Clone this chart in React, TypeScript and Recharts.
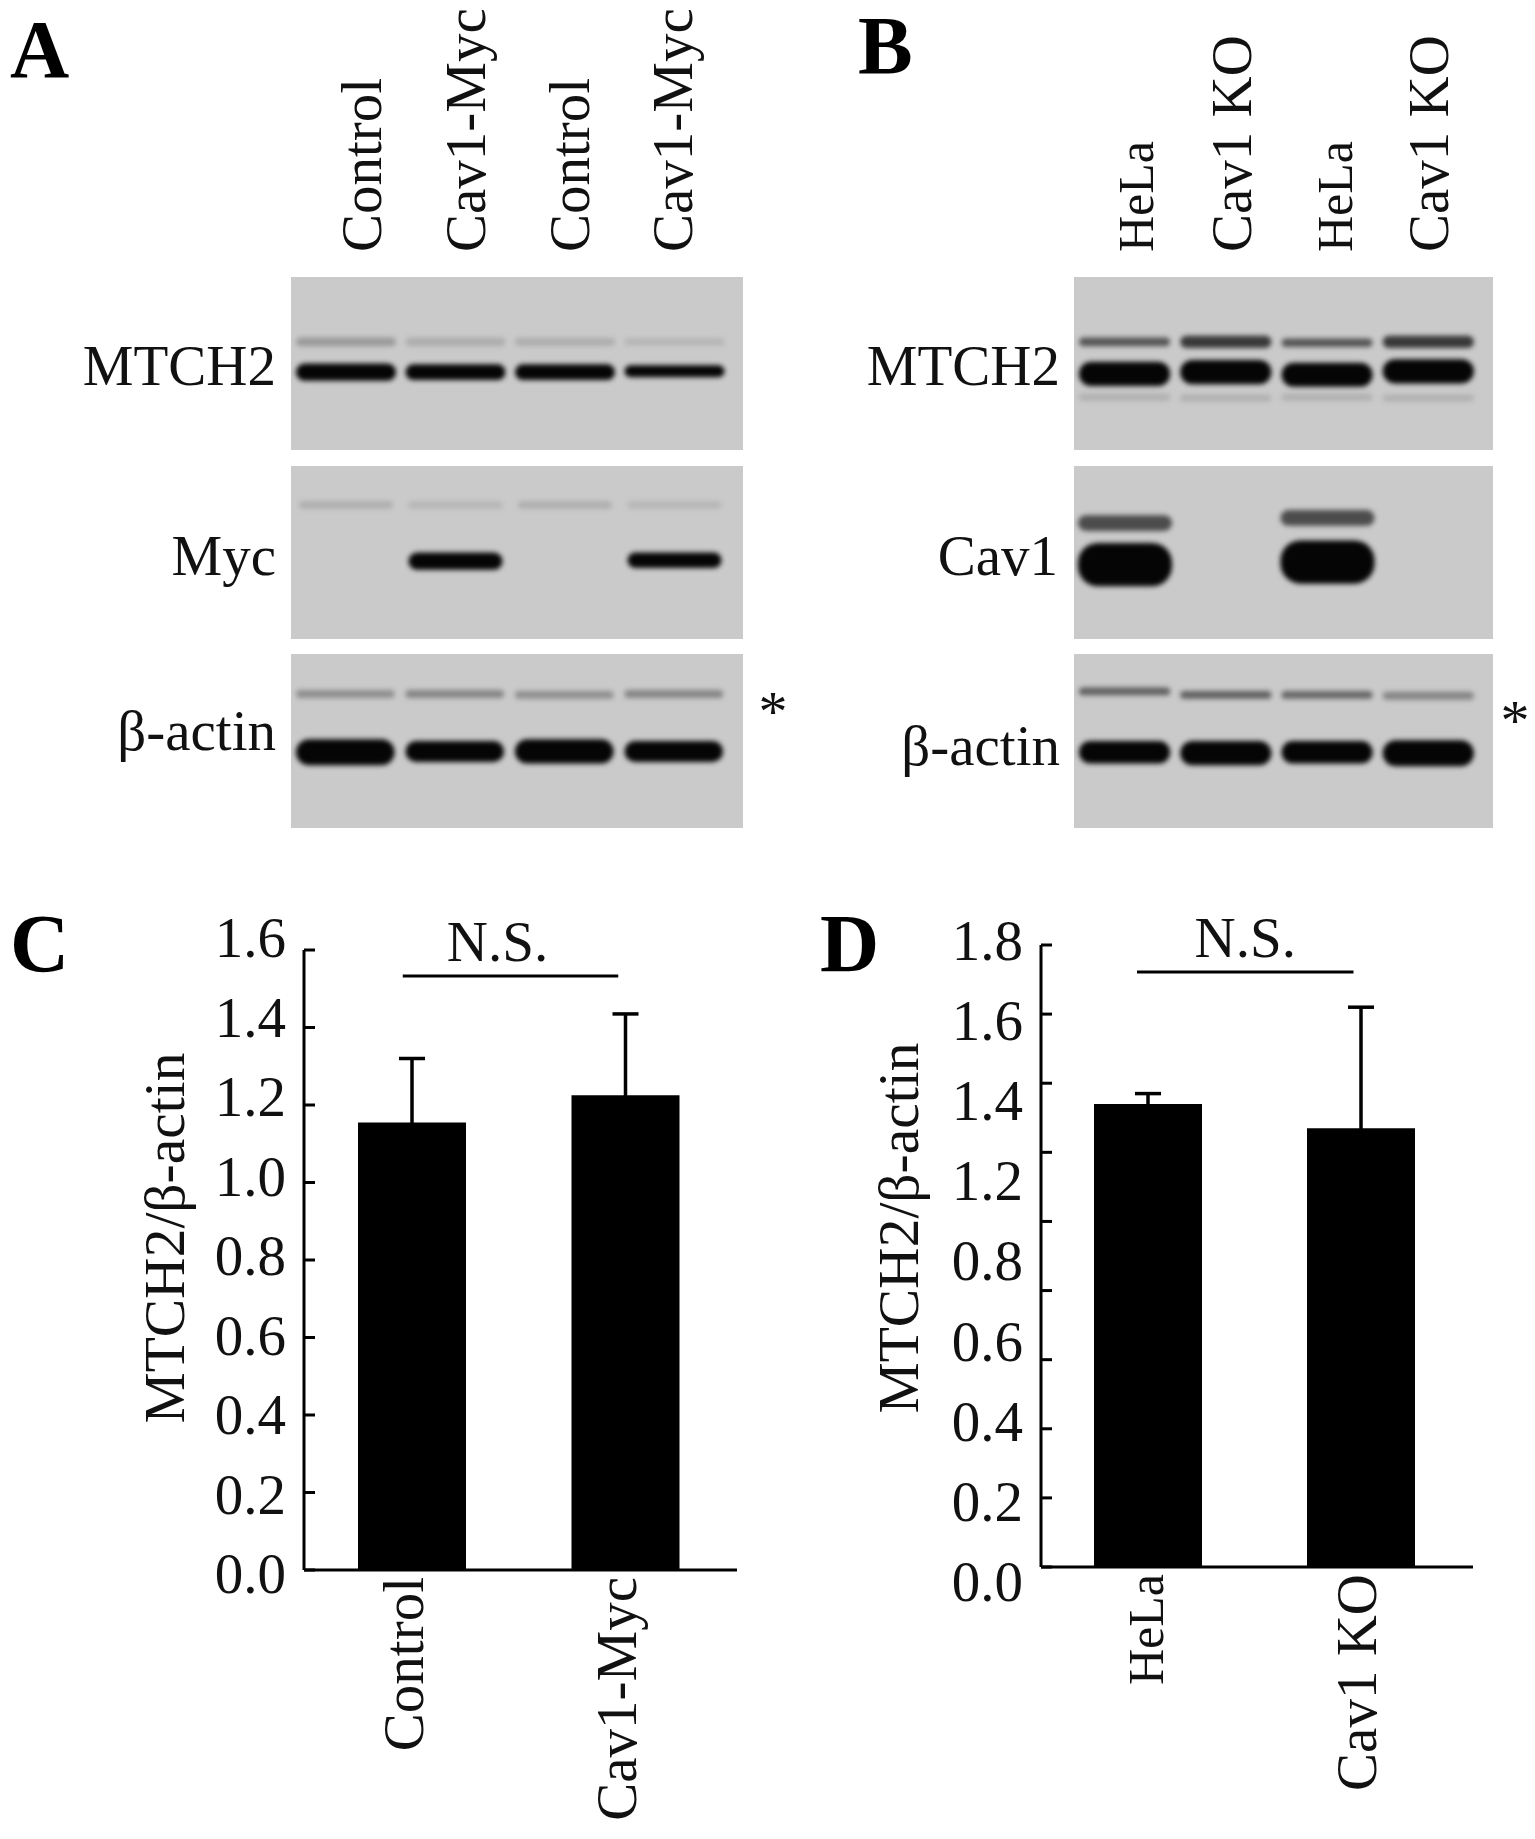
import React from "react";
import {
  Bar,
  BarChart,
  Cell,
  ErrorBar,
  ReferenceLine,
  XAxis,
  YAxis,
} from "recharts";

const SERIF = "'Liberation Serif', serif";
const INK = "#111111";

// Panel C
const groupsC = ["Control", "Cav1-Myc"];
const meansC = [1.155, 1.225];
const errorsC = [0.165, 0.21];
const ticksC = [0, 0.2, 0.4, 0.6, 0.8, 1.0, 1.2, 1.4, 1.6];
const labelsC = ["1.6", "1.4", "1.2", "1.0", "0.8", "0.6", "0.4", "0.2", "0.0"];

// Panel D (the printed labels skip 1.0, there are 10 ticks and 9 labels)
const groupsD = ["HeLa", "Cav1 KO"];
const meansD = [1.34, 1.27];
const errorsD = [0.03, 0.35];
const ticksD = [0, 0.2, 0.4, 0.6, 0.8, 1.0, 1.2, 1.4, 1.6, 1.8];
const labelsD = ["1.8", "1.6", "1.4", "1.2", "0.8", "0.6", "0.4", "0.2", "0.0"];

// Blots: centre and thickness of each band per lane, % of the panel height
const lanes = ["1", "2", "3", "4"];

const aMtch2UpperPos = [37.5, 37.5, 37.5, 37.5];
const aMtch2UpperSize = [5, 5, 4.5, 4];
const aMtch2UpperTone = ["#9a9a9a", "#adadad", "#adadad", "#b4b4b4"];
const aMtch2LowerPos = [55, 55, 55, 54.5];
const aMtch2LowerSize = [10, 9, 9, 7];

const aMycUpperPos = [22.5, 22.5, 22.5, 22.5];
const aMycUpperSize = [4, 4, 4, 4];
const aMycUpperTone = ["#adadad", "#b5b5b5", "#adadad", "#b5b5b5"];
const aMycLowerPos = [55, 55, 55, 54.5];
const aMycLowerSize = [0, 10, 0, 9];

const aActinUpperPos = [23, 23, 23.5, 23];
const aActinUpperSize = [4.5, 4.5, 4.5, 4.5];
const aActinUpperTone = ["#8e8e8e", "#858585", "#8e8e8e", "#858585"];
const aActinLowerPos = [56.5, 56, 56, 56];
const aActinLowerSize = [15, 12, 14, 12];

const bMtch2UpperPos = [37.5, 37.5, 38, 37.5];
const bMtch2UpperSize = [5, 7, 5, 7];
const bMtch2UpperTone = ["#555555", "#383838", "#555555", "#383838"];
const bMtch2LowerPos = [56, 55, 56.5, 54.5];
const bMtch2LowerSize = [14, 14, 14, 14];
const bMtch2FaintPos = [69.5, 70, 69.5, 70];
const bMtch2FaintSize = [4, 4, 4, 4];
const bMtch2FaintTone = ["#b0b0b0", "#b0b0b0", "#b0b0b0", "#b0b0b0"];

const bCavUpperPos = [33, 0, 30, 0];
const bCavUpperSize = [9, 0, 9, 0];
const bCavUpperTone = ["#4c4c4c", "#4c4c4c", "#4c4c4c", "#4c4c4c"];
const bCavLowerPos = [57, 0, 55.5, 0];
const bCavLowerSize = [25, 0, 25, 0];

const bActinUpperPos = [21.5, 23.5, 23.5, 24];
const bActinUpperSize = [4.5, 4.5, 4.5, 4.5];
const bActinUpperTone = ["#5f5f5f", "#5f5f5f", "#666666", "#858585"];
const bActinLowerPos = [56.5, 57, 56.5, 57];
const bActinLowerSize = [13, 14, 13, 15];

const blackTones = ["#050505", "#050505", "#050505", "#050505"];

type Band = { pos: number[]; size: number[]; tone: string[] };

function BlotPanel({ left, top, width, height, barSize, bands }: {
  left: number;
  top: number;
  width: number;
  height: number;
  barSize: number;
  bands: Band[];
}) {
  // each lane is one stack: transparent gap, band, transparent gap, band...
  const rows = lanes.map((lane, l) => {
    const row: Record<string, number | string> = { lane };
    let cursor = 0;
    bands.forEach((band, b) => {
      const start = band.pos[l] - band.size[l] / 2;
      row[`gap${b}`] = Math.max(start - cursor, 0);
      row[`band${b}`] = band.size[l];
      cursor = Math.max(start, cursor) + band.size[l];
    });
    return row;
  });

  return (
    <div
      style={{
        position: "absolute",
        left,
        top,
        width,
        height,
        background: "#cacaca",
        overflow: "hidden",
      }}
    >
      <div style={{ filter: "blur(2.6px)" }}>
        <BarChart
          width={width}
          height={height}
          data={rows}
          margin={{ top: 0, right: 14, bottom: 0, left: 0 }}
          barSize={barSize}
        >
          <XAxis dataKey="lane" hide />
          <YAxis hide reversed domain={[0, 100]} />
          {bands.flatMap((band, b) => [
            <Bar
              key={`gap${b}`}
              dataKey={`gap${b}`}
              stackId="lane"
              fill="transparent"
              isAnimationActive={false}
            />,
            <Bar
              key={`band${b}`}
              dataKey={`band${b}`}
              stackId="lane"
              radius={20}
              isAnimationActive={false}
            >
              {band.tone.map((tone, i) => (
                <Cell key={i} fill={tone} />
              ))}
            </Bar>,
          ])}
        </BarChart>
      </div>
    </div>
  );
}

function ValueTick({ x, y, payload, labels, top, lift, drift }: any) {
  const row = Math.round((top - payload.value) / 0.2);
  return (
    <g>
      <line x1={x} x2={x + 11} y1={y} y2={y} stroke="#000" strokeWidth={3} />
      {row < labels.length && (
        <text
          x={x - 18}
          y={y + lift + row * drift + 19}
          textAnchor="end"
          fontFamily={SERIF}
          fontSize={57}
          fill={INK}
        >
          {labels[row]}
        </text>
      )}
    </g>
  );
}

function GroupTick({ x, y, payload, shift, sizes, groups }: any) {
  const size = sizes[groups.indexOf(payload.value)];
  const bx = x + shift + 18;
  return (
    <text
      transform={`rotate(-90 ${bx} ${y})`}
      x={bx}
      y={y}
      textAnchor="end"
      fontFamily={SERIF}
      fontSize={size}
      fill={INK}
    >
      {payload.value}
    </text>
  );
}

function SigLine({ x1, x2, y1, startShift, endShift, textShift }: any) {
  const a = x1 + startShift;
  const b = x2 + endShift;
  return (
    <g>
      <line x1={a} x2={b} y1={y1} y2={y1} stroke="#000" strokeWidth={3} />
      <text
        x={(a + b) / 2 + textShift}
        y={y1 - 15}
        textAnchor="middle"
        fontFamily={SERIF}
        fontSize={57}
        fill={INK}
      >
        N.S.
      </text>
    </g>
  );
}

function BarPanel({
  left, top, width, height, plotLeft, plotRight, plotTop, plotBottom,
  groups, means, errors, ticks, labels, barSize, sigValue, startShift, endShift,
  textShift, lift, drift, titleShift, labelShift, sizes, padding,
}: any) {
  const rows = groups.map((group: string, i: number) => ({
    group,
    mean: means[i],
    // lower end stays hidden inside the bar
    error: [0.04, errors[i]],
  }));
  const axisWidth = 100;
  const axisHeight = 260;
  const topValue = ticks[ticks.length - 1];

  return (
    <div style={{ position: "absolute", left, top }}>
      <BarChart
        width={width}
        height={height}
        data={rows}
        margin={{
          top: plotTop,
          right: width - plotRight,
          bottom: height - plotBottom - axisHeight,
          left: plotLeft - axisWidth,
        }}
        barSize={barSize}
        style={{ overflow: "visible" }}
      >
        <XAxis
          dataKey="group"
          height={axisHeight}
          interval={0}
          padding={padding}
          tickLine={false}
          tickSize={0}
          tickMargin={7}
          axisLine={{ stroke: "#000", strokeWidth: 3 }}
          tick={<GroupTick shift={labelShift} sizes={sizes} groups={groups} />}
        />
        <YAxis
          width={axisWidth}
          domain={[0, topValue]}
          ticks={ticks}
          interval={0}
          tickLine={false}
          tickSize={0}
          tickMargin={0}
          axisLine={{ stroke: "#000", strokeWidth: 3 }}
          tick={<ValueTick labels={labels} top={topValue} lift={lift} drift={drift} />}
          label={{
            value: "MTCH2/β-actin",
            angle: -90,
            position: "insideLeft",
            offset: titleShift.x,
            dy: titleShift.y,
            style: { fontFamily: SERIF, fontSize: 57.5, fill: INK, textAnchor: "middle" },
          }}
        />
        <Bar dataKey="mean" fill="#000000" isAnimationActive={false}>
          <ErrorBar
            dataKey="error"
            direction="y"
            width={13}
            stroke="#000"
            strokeWidth={3.5}
            isAnimationActive={false}
          />
        </Bar>
        <ReferenceLine
          ifOverflow="visible"
          segment={[
            { x: groups[0], y: sigValue },
            { x: groups[1], y: sigValue },
          ]}
          shape={(p: any) => (
            <SigLine
              x1={p.x1}
              x2={p.x2}
              y1={p.y1}
              startShift={startShift}
              endShift={endShift}
              textShift={textShift}
            />
          )}
        />
      </BarChart>
    </div>
  );
}

function Label({ x, y, size = 57, bold, anchor = "end", rotate, children }: any) {
  return (
    <text
      x={x}
      y={y}
      transform={rotate ? `rotate(-90 ${x} ${y})` : undefined}
      textAnchor={anchor}
      fontFamily={SERIF}
      fontSize={size}
      fontWeight={bold ? 700 : 400}
      fill={bold ? "#000" : INK}
    >
      {children}
    </text>
  );
}

const App: React.FC = () => {
  return (
    <div
      style={{
        position: "absolute",
        left: 0,
        top: 0,
        width: 1535,
        height: 1839,
        background: "#fff",
        overflow: "hidden",
      }}
    >
      <BlotPanel left={291} top={277} width={452} height={173} barSize={100} bands={[
        { pos: aMtch2UpperPos, size: aMtch2UpperSize, tone: aMtch2UpperTone },
        { pos: aMtch2LowerPos, size: aMtch2LowerSize, tone: blackTones },
      ]} />
      <BlotPanel left={291} top={466} width={452} height={173} barSize={94} bands={[
        { pos: aMycUpperPos, size: aMycUpperSize, tone: aMycUpperTone },
        { pos: aMycLowerPos, size: aMycLowerSize, tone: blackTones },
      ]} />
      <BlotPanel left={291} top={654} width={452} height={174} barSize={112} bands={[
        { pos: aActinUpperPos, size: aActinUpperSize, tone: aActinUpperTone },
        { pos: aActinLowerPos, size: aActinLowerSize, tone: blackTones },
      ]} />
      <BlotPanel left={1074} top={277} width={419} height={173} barSize={102} bands={[
        { pos: bMtch2UpperPos, size: bMtch2UpperSize, tone: bMtch2UpperTone },
        { pos: bMtch2LowerPos, size: bMtch2LowerSize, tone: blackTones },
        { pos: bMtch2FaintPos, size: bMtch2FaintSize, tone: bMtch2FaintTone },
      ]} />
      <BlotPanel left={1074} top={466} width={419} height={173} barSize={94} bands={[
        { pos: bCavUpperPos, size: bCavUpperSize, tone: bCavUpperTone },
        { pos: bCavLowerPos, size: bCavLowerSize, tone: blackTones },
      ]} />
      <BlotPanel left={1074} top={654} width={419} height={174} barSize={104} bands={[
        { pos: bActinUpperPos, size: bActinUpperSize, tone: bActinUpperTone },
        { pos: bActinLowerPos, size: bActinLowerSize, tone: blackTones },
      ]} />

      <svg
        width={1535}
        height={880}
        style={{ position: "absolute", left: 0, top: 0 }}
      >
        <Label x={10} y={77} size={82} bold anchor="start">A</Label>
        <Label x={858} y={73} size={82} bold anchor="start">B</Label>

        <Label x={381} y={252} anchor="start" rotate>Control</Label>
        <Label x={485} y={252} anchor="start" rotate>Cav1-Myc</Label>
        <Label x={589} y={252} anchor="start" rotate>Control</Label>
        <Label x={692} y={252} anchor="start" rotate>Cav1-Myc</Label>

        <Label x={1153} y={252} size={50} anchor="start" rotate>HeLa</Label>
        <Label x={1251} y={252} anchor="start" rotate>Cav1 KO</Label>
        <Label x={1352} y={252} size={50} anchor="start" rotate>HeLa</Label>
        <Label x={1448} y={252} anchor="start" rotate>Cav1 KO</Label>

        <Label x={276} y={385}>MTCH2</Label>
        <Label x={276} y={575}>Myc</Label>
        <Label x={276} y={750}>β-actin</Label>
        <Label x={1060} y={385}>MTCH2</Label>
        <Label x={1058} y={575}>Cav1</Label>
        <Label x={1060} y={765}>β-actin</Label>

        <Label x={773} y={731} size={58} anchor="middle">*</Label>
        <Label x={1515} y={740} size={58} anchor="middle">*</Label>
      </svg>

      <BarPanel
        left={0}
        top={880}
        width={780}
        height={959}
        plotLeft={304}
        plotRight={737}
        plotTop={70}
        plotBottom={690}
        groups={groupsC}
        means={meansC}
        errors={errorsC}
        ticks={ticksC}
        labels={labelsC}
        barSize={108}
        sigValue={1.533}
        startShift={-9}
        endShift={-7}
        textShift={-13}
        lift={-12}
        drift={2}
        titleShift={{ x: -40, y: -22 }}
        labelShift={-7}
        sizes={[57, 57]}
        padding={{ left: 1, right: 5 }}
      />
      <BarPanel
        left={780}
        top={880}
        width={755}
        height={959}
        plotLeft={261}
        plotRight={693}
        plotTop={65}
        plotBottom={687}
        groups={groupsD}
        means={meansD}
        errors={errorsD}
        ticks={ticksD}
        labels={labelsD}
        barSize={108}
        sigValue={1.722}
        startShift={-10.5}
        endShift={-7}
        textShift={0}
        lift={-4}
        drift={11}
        titleShift={{ x: -43, y: -28 }}
        labelShift={-3}
        sizes={[50, 57]}
        padding={{ left: 0, right: 6 }}
      />

      <svg
        width={1535}
        height={1000}
        style={{ position: "absolute", left: 0, top: 880, pointerEvents: "none" }}
      >
        <Label x={10} y={91} size={82} bold anchor="start">C</Label>
        <Label x={820} y={91} size={82} bold anchor="start">D</Label>
      </svg>
    </div>
  );
};

export default App;
